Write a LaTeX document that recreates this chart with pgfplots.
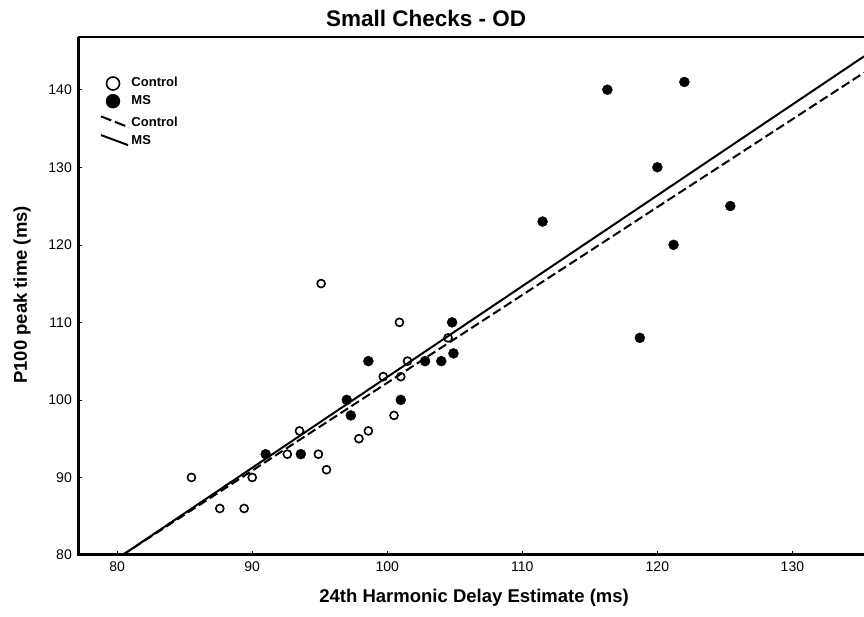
\documentclass[border=0pt]{standalone}
\usepackage{pgfplots}
\pgfplotsset{compat=1.18}
\usepackage{fontspec}
\setmainfont{Liberation Sans}
\begin{document}
\begin{tikzpicture}
\begin{axis}[
  name=ax,
  at={(0,0)}, anchor=south west,
  scale only axis, width=786pt, height=518pt,
  xmin=77.1, xmax=135.3, ymin=80, ymax=146.8,
  xtick={80,90,...,130}, ytick={80,90,...,140},
  axis line style={draw=none},
  tick align=inside, major tick length=4pt,
  tick style={black, line width=0.6pt},
  xtick pos=bottom, ytick pos=left,
  /pgf/number format/assume math mode=true,
  xticklabel style={font=\fontsize{14}{16}\selectfont, inner sep=0pt, yshift=-7pt},
  yticklabel style={font=\fontsize{14}{16}\selectfont, inner sep=0pt, xshift=-6pt},
  title={Small Checks - OD},
  title style={font=\bfseries\fontsize{22.5}{26}\selectfont, at={(0.443,1)}, anchor=base, yshift=4pt},
  xlabel={24th Harmonic Delay Estimate (ms)},
  xlabel style={font=\bfseries\fontsize{18.5}{22}\selectfont, at={(0.504,0)}, anchor=base, yshift=-48pt},
  ylabel={P100 peak time (ms)},
  ylabel style={font=\bfseries\fontsize{18.5}{22}\selectfont, at={(-0.0649,0.502)}, anchor=base},
  clip=false,
  legend cell align=left,
  legend style={at={(0,1)}, anchor=north west, xshift=22pt, yshift=-39.5pt,
    draw=none, fill=none, inner sep=0pt, outer sep=0pt, row sep=3.7pt,
    font=\bfseries\fontsize{13}{15}\selectfont,
    nodes={inner xsep=1.5pt, inner ysep=0.5pt, text height=10pt, text depth=3pt}},
]
\addplot[only marks, mark=o, mark size=4pt, mark options={line width=1.6pt, black},
  legend image code/.code={\draw[black, line width=1.8pt, mark size=6.5pt] plot[mark=o, only marks] coordinates {(12pt,0pt)};}]
coordinates {
(85.5,90) (87.6,86) (89.4,86) (90.0,90) (92.6,93) (93.5,96) (94.9,93) (95.5,91)
(95.1,115) (97.9,95) (98.6,96) (99.7,103) (100.5,98) (100.9,110) (101.0,103)
(101.5,105) (104.5,108)
};
\addlegendentry{Control}
\addplot[only marks, mark=*, mark size=5pt, mark options={black, fill=black},
  legend image code/.code={\draw[black, fill=black, mark size=7pt] plot[mark=*, only marks] coordinates {(12pt,0pt)};}]
coordinates {
(91.0,93) (93.6,93) (97.0,100) (97.3,98) (98.6,105) (101.0,100) (102.8,105)
(104.0,105) (104.9,106) (104.8,110) (111.5,123) (116.3,140) (122.0,141)
(120.0,130) (125.4,125) (121.2,120) (118.7,108)
};
\addlegendentry{MS}
\addplot[black, line width=2pt, dash pattern=on 9pt off 4pt,
  legend image code/.code={\path (0pt,10.5pt); \draw[black, line width=2pt, dash pattern=on 11pt off 4pt] (0pt,7pt) -- (28pt,-4pt);}]
coordinates {(80.4,80) (135.3,142.2)};
\addlegendentry{Control}
\addplot[black, line width=2pt,
  legend image code/.code={\draw[black, line width=2pt] (0pt,6pt) -- (27pt,-4pt);}]
coordinates {(80.4,80) (135.3,144.3)};
\addlegendentry{MS}
\end{axis}
\draw[line width=3pt, line join=miter] (ax.north west) -- (ax.south west) -- (ax.south east);
\draw[line width=2pt] (ax.north west) -- (ax.north east);
\pgfresetboundingbox
\path (-78pt,-62pt) rectangle (786pt,555pt);
\end{tikzpicture}
\end{document}
